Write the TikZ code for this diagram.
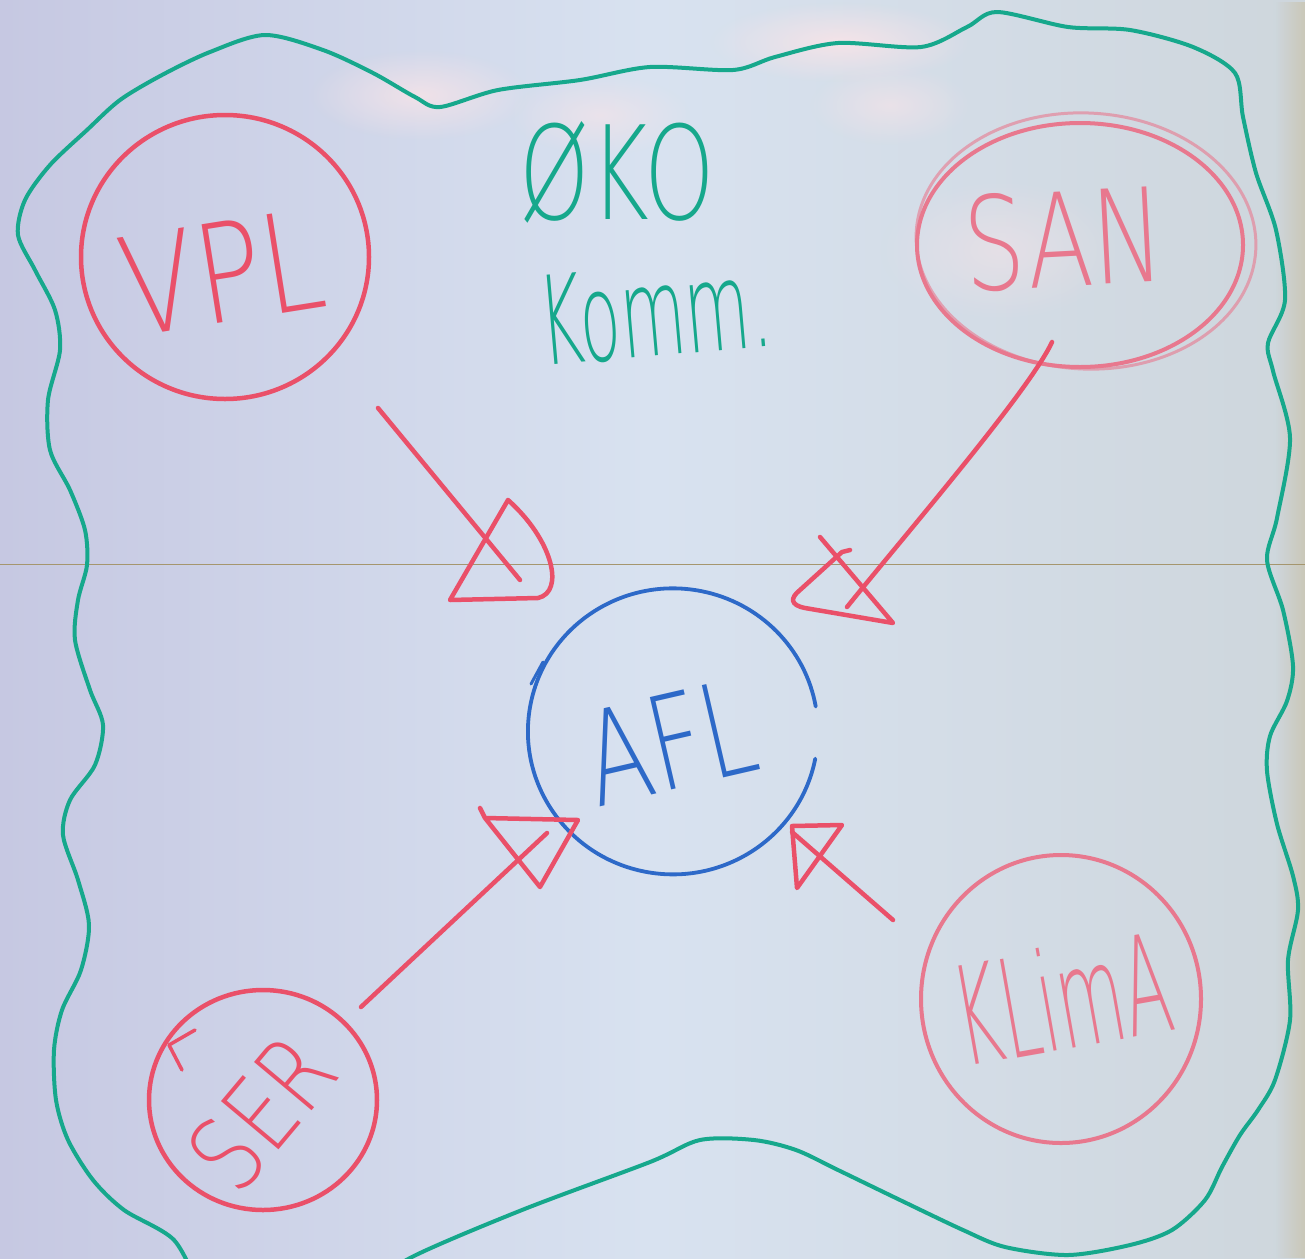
\documentclass[tikz,border=0pt]{standalone}
\usepackage{fontspec}
\newfontfamily\hand{DejaVu Sans ExtraLight}
\usetikzlibrary{shapes.geometric,fadings}
\tikzfading[name=softglow, inner color=transparent!0, outer color=transparent!100]
\definecolor{bgleft}{RGB}{198,200,226}
\definecolor{bgmid}{RGB}{216,226,240}
\definecolor{bgright}{RGB}{206,214,220}
\definecolor{glow}{RGB}{248,228,232}
\definecolor{edgetan}{RGB}{200,190,160}
\definecolor{penred}{RGB}{234,80,105}
\definecolor{penpink}{RGB}{232,120,142}
\definecolor{penblue}{RGB}{45,105,200}
\definecolor{pengreen}{RGB}{22,168,140}
\definecolor{seamcol}{RGB}{165,150,110}
\begin{document}
\begin{tikzpicture}[x=1pt,y=-1pt,
  redpen/.style={draw=penred, line width=4.5pt, line cap=round, line join=round},
  pinkpen/.style={draw=penpink, line width=4pt, line cap=round, line join=round},
  bluepen/.style={draw=penblue, line width=3.8pt, line cap=round, line join=round},
  greenpen/.style={draw=pengreen, line width=4pt, line cap=round, line join=round},
  ring/.style={ellipse, inner sep=0pt, outer sep=0pt},
  word/.style={inner sep=0pt},
  shine/.style={fill=glow, path fading=softglow},
]
\useasboundingbox (0,0) rectangle (1305,1258);
\clip (0,0) rectangle (1305,1258);
\shade[left color=bgleft, right color=bgright, middle color=bgmid] (0,0) rectangle (1305,1258);
% light reflections on the board
\fill[shine, opacity=0.9] (840,42) ellipse [x radius=130pt, y radius=40pt];
\fill[shine, opacity=0.8] (420,95) ellipse [x radius=110pt, y radius=45pt];
\fill[shine, opacity=0.6] (600,115) ellipse [x radius=90pt, y radius=40pt];
\fill[shine, opacity=0.6] (890,105) ellipse [x radius=80pt, y radius=40pt];
\fill[shine, opacity=0.5] (1000,250) ellipse [x radius=120pt, y radius=70pt];
\fill[edgetan, path fading=west, opacity=0.6] (1275,0) rectangle (1305,1258);
\draw[seamcol, line width=1pt] (0,564) -- (1305,564);

% green border
\draw[greenpen] plot[smooth] coordinates {(200,1290) (174,1240) (124,1210) (93,1180) (68,1140) (56,1100) (54,1050) (62,1010) (81,970) (89,925) (78,880) (63,835) (70,800) (95,765) (103,725) (90,690) (75,640) (78,600) (87,565) (85,530) (70,490) (50,450) (48,400) (60,350) (55,310) (35,270) (18,235) (25,200) (50,165) (87,130) (120,100) (162,75) (210,52) (265,35) (323,50) (373,73) (415,97) (440,107) (498,90) (580,80) (650,67) (733,70) (775,57) (838,43) (921,47) (967,27) (997,12) (1068,27) (1130,30) (1193,47) (1235,73) (1243,117) (1256,173) (1276,230) (1285,300) (1268,343) (1273,371) (1290,438) (1277,518) (1267,560) (1283,610) (1293,666) (1287,701) (1270,736) (1267,771) (1277,824) (1293,876) (1298,910) (1288,960) (1290,1020) (1275,1080) (1258,1110) (1240,1135) (1222,1167) (1205,1200) (1172,1230) (1130,1245) (1068,1255) (1005,1247) (963,1230) (900,1200) (838,1170) (796,1150) (754,1140) (700,1140) (650,1162) (522,1210) (410,1258) (370,1290)};

% texts in green
\node[word, text=pengreen, font={\hand\fontsize{130}{130}\selectfont}, xscale=0.69] (oko) at (617,172) {ØKO};
\node[word, text=pengreen, font={\hand\fontsize{123}{123}\selectfont}, rotate=5, xscale=0.54] (komm) at (655,312) {Komm.};

% circles
\node[ring, draw=penred, line width=4.5pt, minimum width=288pt, minimum height=284pt] (vpl) at (225,257) {};
\node[ring, draw=penpink, line width=3pt, draw opacity=0.6, rotate=-3, minimum width=340pt, minimum height=256pt] (san2) at (1086,241) {};
\node[ring, draw=penpink, line width=4pt, minimum width=326pt, minimum height=244pt] (san) at (1080,245) {};
\node[ring, minimum width=290pt, minimum height=286pt] (afl) at (673,731) {};
\draw[bluepen] (afl.-11) arc[start angle=-11, end angle=-350, x radius=145pt, y radius=143pt];
\draw[bluepen, line width=3pt] (543,662) -- (531,684);
\node[ring, draw=penred, line width=4.5pt, minimum width=228pt, minimum height=220pt] (ser) at (263,1100) {};
\draw[redpen, line width=3.5pt] (195,1030) -- (169,1045) -- (182,1070);
\node[ring, draw=penpink, line width=4pt, minimum width=280pt, minimum height=288pt] (klima) at (1061,999) {};

% labels
\node[word, text=penred, font={\hand\fontsize{137}{137}\selectfont}, rotate=9, xscale=0.8] (vpltxt) at (222,272) {VPL};
\node[word, text=penpink, font={\hand\fontsize{130}{130}\selectfont}, rotate=3, xscale=0.74] (santxt) at (1064,239) {SAN};
\node[word, text=penblue, font={\hand\fontsize{130}{130}\selectfont}, rotate=13, xscale=0.72] (afltxt) at (670,742) {AFL};
\node[word, text=penred, font={\hand\fontsize{103}{103}\selectfont}, rotate=50, xscale=0.8] (sertxt) at (262,1112) {SER};
\node[word, text=penpink, font={\hand\fontsize{137}{137}\selectfont}, rotate=10, xscale=0.5] (klimatxt) at (1062,997) {KLimA};

% connectors
\coordinate (v1) at (378,408); \coordinate (v2) at (520,580);
\draw[redpen] (v1) -- (v2);
\draw[redpen] (508,500) -- (450,600) -- (538,598) .. controls (565,592) and (553,540) .. (508,500);

\coordinate (s1) at (1052,342); \coordinate (s2) at (847,607);
\draw[redpen] (s1) .. controls (1030,390) and (905,535) .. (s2);
\draw[redpen] (820,537) -- (893,623) -- (805,608) .. controls (790,605) and (790,598) .. (800,590) -- (842,552) -- (850,550);

\coordinate (e1) at (361,1007); \coordinate (e2) at (547,833);
\draw[redpen] (e1) -- (e2);
\draw[redpen] (480,808) -- (485,818) -- (578,820) -- (540,887) -- (485,818);

\coordinate (k1) at (893,920); \coordinate (k2) at (792,832);
\draw[redpen] (k1) -- (k2);
\draw[redpen] (792,826) -- (842,825) -- (797,888) -- cycle;
\end{tikzpicture}
\end{document}
